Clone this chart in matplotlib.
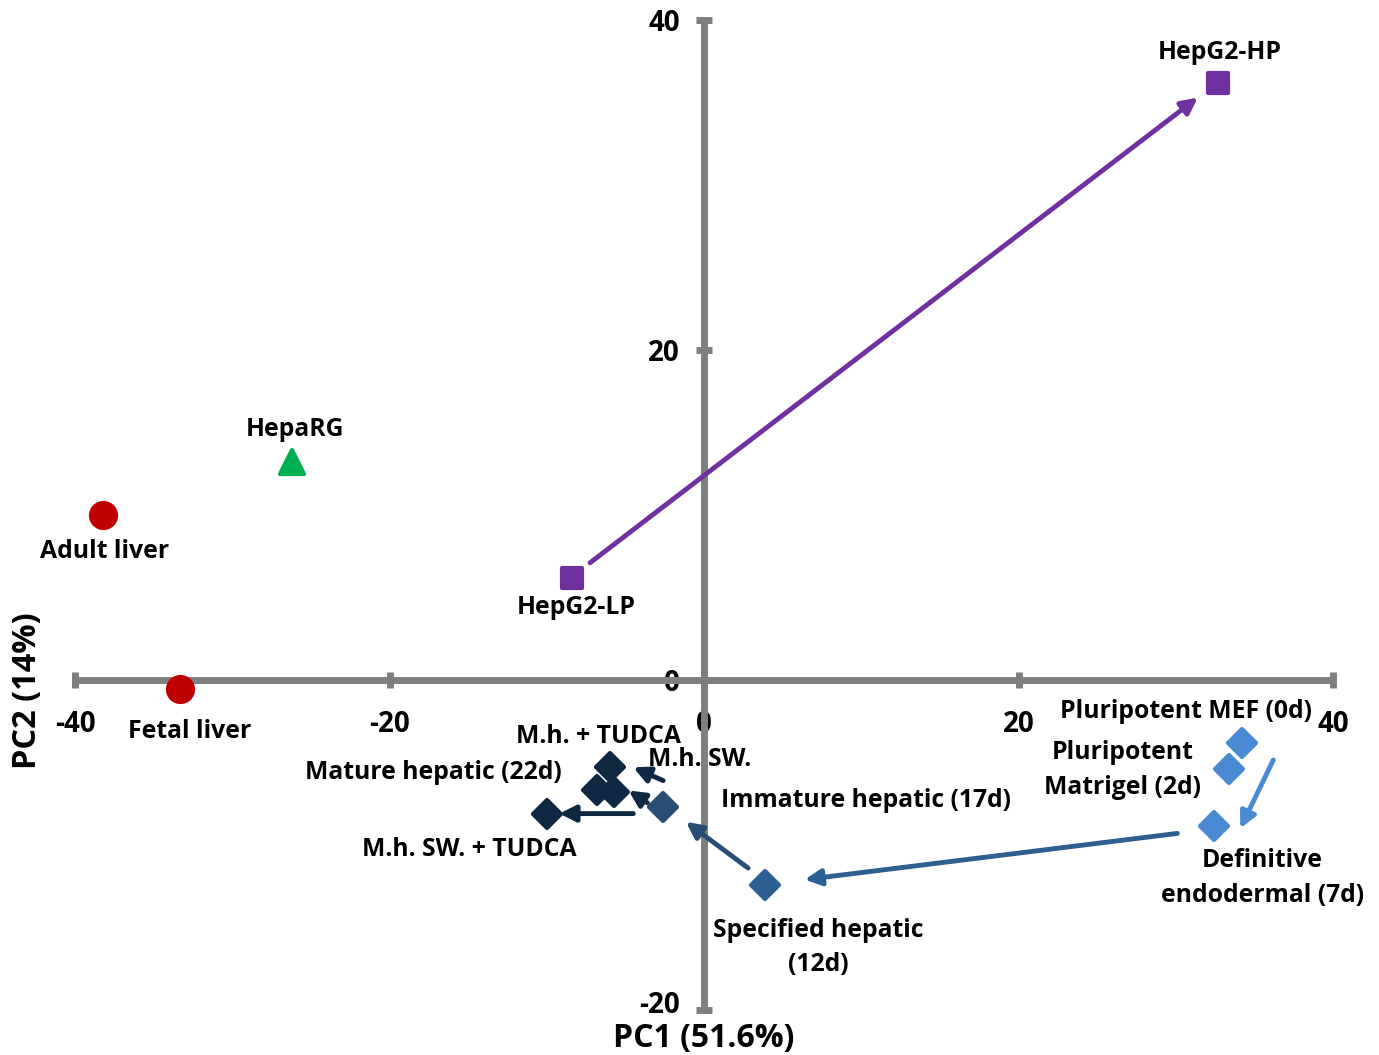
import matplotlib
matplotlib.use("Agg")
import matplotlib.pyplot as plt
import matplotlib.transforms as mtransforms
from matplotlib.markers import MarkerStyle

plt.rcParams['font.family'] = ['Open Sans', 'DejaVu Sans']
plt.rcParams['font.weight'] = 'bold'
plt.rcParams['axes.unicode_minus'] = False

# PCA scores (PC1, PC2)
names = ['Adult liver', 'Fetal liver', 'HepaRG', 'HepG2-LP', 'HepG2-HP',
         'Pluripotent MEF (0d)', 'Pluripotent Matrigel (2d)', 'Definitive endodermal (7d)',
         'Specified hepatic (12d)', 'Immature hepatic (17d)', 'Mature hepatic (22d)',
         'M.h. + TUDCA', 'M.h. SW.', 'M.h. SW. + TUDCA']
pc1 = [-38.2, -33.3, -26.2, -8.4, 32.7, 34.2, 33.4, 32.4, 3.9, -2.6, -6.8, -6.0, -5.7, -10.0]
pc2 = [10.0, -0.55, 13.2, 6.2, 36.2, -3.8, -5.4, -8.85, -12.4, -7.7, -6.7, -5.3, -6.8, -8.1]
colors = ['#C00000', '#C00000', '#00B050', '#7030A0', '#7030A0',
          '#4A8AD2', '#4A8AD2', '#4A8AD2', '#2E5F92', '#284D75',
          '#0E2841', '#0E2841', '#0E2841', '#0E2841']
markers = ['o', 'o', '^', 's', 's', 'D', 'D', 'D', 'D', 'D', 'D', 'D', 'D', 'D']

# label text and its position
labels = ['Adult liver', 'Fetal liver', 'HepaRG', 'HepG2-LP', 'HepG2-HP',
          'Pluripotent MEF (0d)', 'Pluripotent\nMatrigel (2d)', 'Definitive\nendodermal (7d)',
          'Specified hepatic\n(12d)', 'Immature hepatic (17d)', 'Mature hepatic (22d)',
          'M.h. + TUDCA', 'M.h. SW.', 'M.h. SW. + TUDCA']
label_x = [-38.1, -32.7, -26.0, -8.1, 32.8, 30.65, 26.6, 35.5, 7.25, 10.3, -17.2, -6.7, -0.25, -14.9]
label_y = [7.8, -3.1, 15.15, 4.4, 38.0, -1.9, -5.45, -12.0, -16.2, -7.3, -5.6, -3.45, -4.85, -10.25]

# arrows: start, end, colour
arrows = [
    ((-7.25, 7.1), (31.4, 35.3), '#7030A0'),
    ((36.2, -4.85), (34.1, -9.0), '#4A8AD2'),
    ((30.1, -9.3), (6.4, -12.1), '#2E5F92'),
    ((2.8, -11.4), (-1.15, -8.6), '#284D75'),
    ((-4.5, -8.1), (-9.2, -8.1), '#0E2841'),
    ((-2.6, -6.1), (-4.5, -5.3), '#0E2841'),
    ((-3.6, -7.45), (-4.8, -6.7), '#0E2841'),
]

fig = plt.figure(figsize=(13.79, 10.55), dpi=100)
ax = fig.add_axes([0.0544, 0.0427, 0.9123, 0.9384])
ax.set_xlim(-40, 40)
ax.set_ylim(-20, 40)

for s in ['top', 'right']:
    ax.spines[s].set_visible(False)
for s in ['left', 'bottom']:
    ax.spines[s].set_position(('data', 0))
    ax.spines[s].set_color('#7F7F7F')
    ax.spines[s].set_linewidth(5)
    ax.spines[s].set_capstyle('butt')

ax.set_xticks([-40, -20, 0, 20, 40])
ax.set_yticks([-20, 0, 20, 40])
ax.tick_params(direction='inout', length=11, width=5, color='#7F7F7F',
               labelsize=20)
ax.tick_params(axis='x', pad=16)
ax.tick_params(axis='y', pad=12)
for t in ax.get_xticklabels() + ax.get_yticklabels():
    t.set_fontweight('bold')
# nudge the bottom y label up a little so it clears the PC1 title
lowest = ax.get_yticklabels()[0]
lowest.set_transform(lowest.get_transform() +
                     mtransforms.ScaledTranslation(0, 6 / 72, fig.dpi_scale_trans))

for (x0, y0), (x1, y1), c in arrows:
    ax.annotate('', xy=(x1, y1), xytext=(x0, y0),
                arrowprops=dict(arrowstyle='-|>', color=c, lw=3.5,
                                mutation_scale=24, shrinkA=0, shrinkB=0))

sizes = {'o': 18, '^': 17, 's': 15, 'D': 14}
for x, y, c, m in zip(pc1, pc2, colors, markers):
    ms = MarkerStyle(m, joinstyle='round')
    ax.plot(x, y, marker=ms, color=c, markersize=sizes[m],
            markeredgewidth=3, markeredgecolor=c, linestyle='none', zorder=5)

for t, x, y in zip(labels, label_x, label_y):
    ax.text(x, y, t, ha='center', va='center', fontsize=17.8, fontweight='bold',
            linespacing=1.5, zorder=6)

fig.text(0.5105, 0.016, 'PC1 (51.6%)', ha='center', va='center',
         fontsize=23, fontweight='bold')
fig.text(0.02, 0.345, 'PC2 (14%)', ha='center', va='center', rotation=90,
         fontsize=23.5, fontweight='bold')

fig.savefig('out.png', dpi=100)
